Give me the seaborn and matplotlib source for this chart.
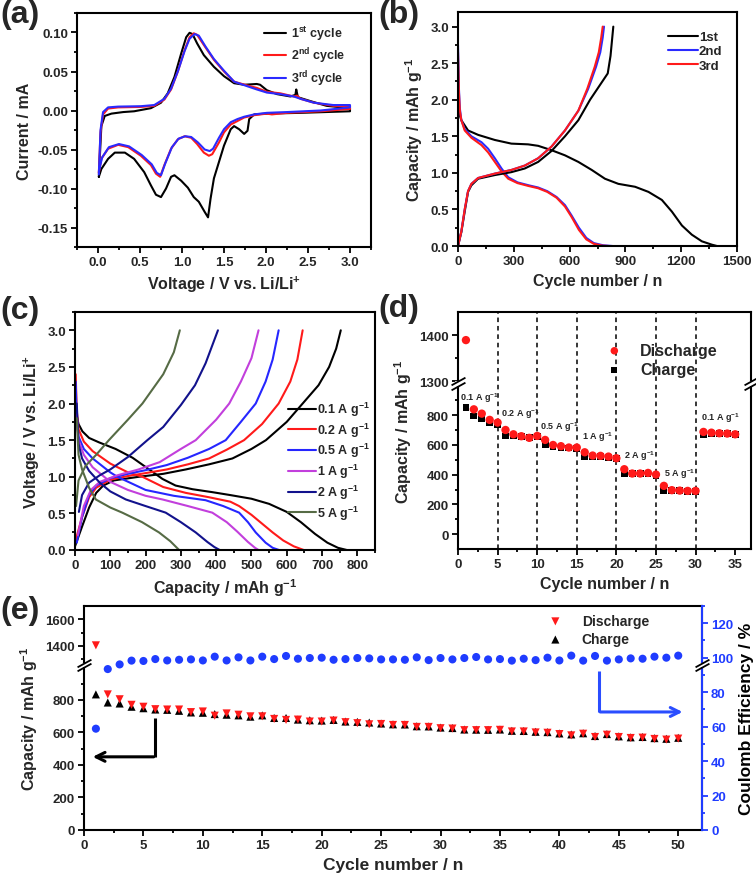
import numpy as np
import matplotlib
matplotlib.use('Agg')
import matplotlib.pyplot as plt
import matplotlib.transforms as mtransforms
from matplotlib.ticker import MultipleLocator, FixedLocator
import seaborn as sns

sns.set_style('ticks')
plt.rcParams['font.family'] = ['Liberation Sans', 'DejaVu Sans']
plt.rcParams['font.weight'] = 'bold'
plt.rcParams['axes.labelweight'] = 'bold'
plt.rcParams['mathtext.fontset'] = 'custom'
plt.rcParams['mathtext.rm'] = 'Liberation Sans:bold'
plt.rcParams['mathtext.it'] = 'Liberation Sans:bold'
plt.rcParams['mathtext.bf'] = 'Liberation Sans:bold'
plt.rcParams['mathtext.default'] = 'rm'
plt.rcParams['lines.solid_joinstyle'] = 'round'

# ---------------- (a) cyclic voltammetry ----------------
cv1_v = [0.01, 0.04, 0.08, 0.16, 0.30, 0.43, 0.63, 0.75, 0.83, 0.91, 0.99, 1.05, 1.09, 1.125, 1.18, 1.26,
         1.38, 1.50, 1.62, 1.74, 1.89, 1.93, 2.01, 2.13, 2.29, 2.35, 2.36, 2.38, 2.53, 2.72, 3.0,
         3.0, 2.41, 2.01, 1.86, 1.80, 1.78, 1.74, 1.68, 1.62, 1.58, 1.50, 1.44, 1.38, 1.34, 1.31, 1.27,
         1.20, 1.14, 1.07, 0.99, 0.91, 0.87, 0.81, 0.75, 0.69, 0.63, 0.55, 0.43, 0.32, 0.20, 0.12, 0.04, 0.01]
cv1_i = [-0.085, -0.020, -0.007, -0.004, -0.002, -0.001, 0.003, 0.010, 0.022, 0.043, 0.073, 0.094, 0.0996, 0.098, 0.086, 0.071,
         0.056, 0.044, 0.035, 0.033, 0.034, 0.033, 0.026, 0.021, 0.018, 0.020, 0.027, 0.017, 0.012, 0.006, 0.003,
         -0.001, -0.003, -0.004, -0.005, -0.011, -0.026, -0.030, -0.024, -0.020, -0.024, -0.045, -0.066, -0.087, -0.113, -0.137, -0.130,
         -0.117, -0.111, -0.099, -0.090, -0.083, -0.085, -0.100, -0.111, -0.108, -0.096, -0.079, -0.062, -0.054, -0.054, -0.062, -0.075, -0.085]
cv2_v = [0.01, 0.03, 0.06, 0.12, 0.24, 0.51, 0.67, 0.79, 0.87, 0.95, 1.03, 1.09, 1.14, 1.18, 1.26, 1.38, 1.50, 1.62,
         1.78, 1.89, 2.01, 2.17, 2.33, 2.37, 2.41, 2.57, 2.80, 3.0,
         3.0, 2.65, 2.25, 2.07, 2.01, 1.86, 1.74, 1.66, 1.58, 1.50, 1.44, 1.36, 1.32, 1.26, 1.18, 1.11, 1.03, 0.95,
         0.87, 0.79, 0.74, 0.69, 0.63, 0.51, 0.36, 0.24, 0.12, 0.04, 0.01]
cv2_i = [-0.080, -0.028, -0.005, 0.0025, 0.004, 0.0046, 0.006, 0.014, 0.027, 0.050, 0.077, 0.094, 0.099, 0.097, 0.084, 0.065, 0.050, 0.037,
         0.032, 0.029, 0.024, 0.022, 0.018, 0.019, 0.015, 0.010, 0.006, 0.0055,
         0.002, -0.001, -0.003, -0.005, -0.004, -0.006, -0.009, -0.0135, -0.018, -0.028, -0.041, -0.056, -0.058, -0.054, -0.043, -0.035, -0.033, -0.037,
         -0.049, -0.070, -0.085, -0.081, -0.070, -0.058, -0.047, -0.044, -0.049, -0.062, -0.080]
cv3_v = [0.01, 0.03, 0.06, 0.12, 0.24, 0.51, 0.67, 0.79, 0.87, 0.95, 1.03, 1.09, 1.15, 1.20, 1.28, 1.38, 1.50, 1.62,
         1.78, 1.89, 2.01, 2.17, 2.33, 2.41, 2.57, 2.80, 3.0,
         3.0, 2.65, 2.25, 2.01, 1.86, 1.74, 1.66, 1.58, 1.50, 1.44, 1.37, 1.33, 1.27, 1.19, 1.11, 1.04, 0.96,
         0.88, 0.80, 0.75, 0.70, 0.64, 0.52, 0.37, 0.25, 0.13, 0.05, 0.01]
cv3_i = [-0.082, -0.025, -0.002, 0.004, 0.005, 0.0055, 0.007, 0.015, 0.028, 0.050, 0.076, 0.092, 0.098, 0.096, 0.082, 0.066, 0.051, 0.037,
         0.031, 0.027, 0.023, 0.021, 0.018, 0.015, 0.010, 0.007, 0.007,
         0.004, 0.0, -0.002, -0.003, -0.005, -0.008, -0.011, -0.015, -0.024, -0.035, -0.049, -0.052, -0.050, -0.041, -0.034, -0.033, -0.036,
         -0.047, -0.068, -0.083, -0.080, -0.069, -0.057, -0.046, -0.043, -0.047, -0.060, -0.078]

# ---------------- (b) charge / discharge profiles ----------------
b1_dis_x = [0, 5, 18, 54, 108, 198, 287, 377, 431, 503, 575, 647, 719, 790, 862, 952, 1024, 1096, 1150, 1204, 1257, 1311, 1365, 1392]
b1_dis_y = [1.95, 1.82, 1.72, 1.58, 1.52, 1.45, 1.40, 1.39, 1.37, 1.31, 1.24, 1.15, 1.04, 0.92, 0.85, 0.81, 0.74, 0.63, 0.47, 0.28, 0.155, 0.064, 0.018, 0.0]
b1_chg_x = [0, 18, 36, 54, 72, 108, 198, 287, 359, 431, 503, 575, 647, 710, 776, 805, 820, 835]
b1_chg_y = [0.0, 0.19, 0.47, 0.74, 0.83, 0.92, 0.97, 1.01, 1.06, 1.15, 1.30, 1.50, 1.72, 2.0, 2.25, 2.36, 2.6, 3.0]
b2_dis_x = [0, 5, 10, 18, 36, 72, 126, 162, 198, 234, 270, 320, 380, 431, 480, 530, 575, 610, 650, 690, 730, 780, 830]
b2_dis_y = [2.75, 2.15, 1.88, 1.72, 1.60, 1.50, 1.42, 1.33, 1.20, 1.06, 0.94, 0.87, 0.83, 0.80, 0.75, 0.67, 0.56, 0.42, 0.25, 0.11, 0.04, 0.01, 0.0]
b2_chg_x = [0, 18, 36, 54, 72, 108, 198, 287, 359, 431, 503, 575, 647, 700, 742, 765, 778, 785]
b2_chg_y = [0.0, 0.2, 0.5, 0.75, 0.85, 0.93, 0.99, 1.04, 1.10, 1.20, 1.36, 1.58, 1.85, 2.15, 2.45, 2.65, 2.85, 3.0]
b3_dis_x = [0, 5, 10, 18, 36, 72, 126, 162, 198, 234, 270, 320, 380, 431, 480, 530, 575, 610, 650, 690, 730, 775, 810]
b3_dis_y = [2.65, 2.1, 1.85, 1.72, 1.58, 1.48, 1.38, 1.28, 1.15, 1.02, 0.92, 0.86, 0.82, 0.79, 0.74, 0.66, 0.54, 0.40, 0.22, 0.09, 0.03, 0.005, 0.0]
b3_chg_x = [0, 18, 36, 54, 72, 108, 198, 287, 359, 431, 503, 575, 647, 695, 735, 757, 770, 778]
b3_chg_y = [0.0, 0.2, 0.5, 0.75, 0.85, 0.93, 0.99, 1.04, 1.10, 1.20, 1.36, 1.58, 1.85, 2.15, 2.45, 2.65, 2.85, 3.0]

# ---------------- (c) rate profiles ----------------
rate_labels = ['0.1 A g$^{-1}$', '0.2 A g$^{-1}$', '0.5 A g$^{-1}$', '1 A g$^{-1}$', '2 A g$^{-1}$', '5 A g$^{-1}$']
rate_colors = ['#000000', '#ff1a1a', '#2626ff', '#c23fdc', '#12128c', '#566b45']
c_dis_x = [
    [2, 10, 21, 40, 68, 115, 163, 210, 248, 285, 333, 389, 440, 500, 550, 600, 640, 680, 715, 745, 770],
    [2, 5, 10, 25, 50, 100, 150, 191, 250, 314, 380, 440, 465, 500, 530, 560, 590, 620, 648],
    [2, 5, 10, 25, 50, 100, 120, 200, 280, 370, 420, 465, 490, 512, 540, 560, 578],
    [5, 10, 25, 50, 100, 150, 200, 248, 320, 389, 430, 460, 490, 510, 520],
    [5, 10, 20, 40, 70, 100, 144, 200, 257, 300, 342, 375, 395, 410],
    [5, 10, 20, 40, 59, 100, 134, 190, 238, 270, 295],
]
c_dis_y = [
    [1.9, 1.72, 1.62, 1.53, 1.47, 1.38, 1.26, 1.10, 0.97, 0.88, 0.83, 0.79, 0.75, 0.70, 0.63, 0.52, 0.38, 0.22, 0.10, 0.03, 0.0],
    [2.4, 1.9, 1.65, 1.48, 1.35, 1.18, 1.06, 1.0, 0.86, 0.78, 0.72, 0.66, 0.60, 0.48, 0.36, 0.24, 0.13, 0.05, 0.0],
    [2.3, 1.8, 1.55, 1.38, 1.25, 1.06, 1.0, 0.82, 0.74, 0.68, 0.60, 0.51, 0.38, 0.24, 0.10, 0.03, 0.0],
    [1.85, 1.5, 1.30, 1.13, 0.93, 0.82, 0.74, 0.69, 0.60, 0.51, 0.38, 0.25, 0.11, 0.03, 0.0],
    [2.0, 1.45, 1.25, 1.08, 0.92, 0.80, 0.69, 0.60, 0.51, 0.38, 0.24, 0.11, 0.04, 0.0],
    [1.8, 1.3, 1.1, 0.85, 0.69, 0.58, 0.51, 0.38, 0.24, 0.12, 0.0],
]
c_chg_x = [
    [0, 20, 40, 60, 80, 110, 181, 250, 314, 380, 446, 500, 541, 600, 645, 690, 720, 740, 753],
    [0, 20, 40, 60, 100, 150, 200, 260, 320, 380, 430, 479, 530, 577, 610, 630, 645],
    [5, 20, 40, 60, 100, 150, 200, 260, 320, 380, 427, 470, 512, 540, 560, 577],
    [8, 25, 45, 70, 120, 180, 240, 300, 342, 400, 437, 470, 500, 520],
    [11, 20, 40, 70, 100, 150, 205, 250, 300, 340, 370, 405],
    [3, 10, 30, 60, 96, 150, 191, 250, 280, 297],
]
c_chg_y = [
    [0.05, 0.32, 0.58, 0.78, 0.88, 0.95, 1.0, 1.04, 1.10, 1.17, 1.25, 1.38, 1.5, 1.75, 2.0, 2.25, 2.5, 2.75, 3.0],
    [0.1, 0.45, 0.72, 0.85, 0.96, 1.01, 1.05, 1.10, 1.17, 1.25, 1.37, 1.5, 1.72, 2.0, 2.3, 2.6, 3.0],
    [0.1, 0.45, 0.75, 0.88, 0.98, 1.04, 1.09, 1.16, 1.26, 1.38, 1.5, 1.75, 2.0, 2.3, 2.6, 3.0],
    [0.2, 0.6, 0.82, 0.93, 1.02, 1.10, 1.20, 1.38, 1.5, 1.78, 2.0, 2.3, 2.62, 3.0],
    [0.52, 0.75, 0.92, 1.02, 1.10, 1.27, 1.5, 1.68, 1.98, 2.25, 2.55, 3.0],
    [0.6, 0.95, 1.15, 1.30, 1.5, 1.78, 2.0, 2.4, 2.7, 3.0],
]

# ---------------- (d) rate capability ----------------
d_cycle = list(range(1, 36))
d_discharge = [1389, 840, 811, 769, 751, 701, 672, 659, 648, 661, 634, 600, 592, 583, 583, 551, 529, 527, 522, 511,
               437, 408, 408, 412, 401, 325, 296, 293, 291, 291, 688, 683, 679, 677, 672]
d_charge = [851, 795, 778, 751, 739, 661, 661, 656, 648, 656, 605, 592, 585, 580, 578, 522, 522, 522, 518, 509,
            406, 406, 406, 406, 397, 296, 291, 291, 289, 287, 672, 679, 675, 675, 670]
d_rate_text = ['0.1 A g$^{-1}$', '0.2 A g$^{-1}$', '0.5 A g$^{-1}$', '1 A g$^{-1}$', '2 A g$^{-1}$', '5 A g$^{-1}$', '0.1 A g$^{-1}$']
d_rate_x = [0.3, 5.4, 10.3, 15.7, 20.9, 26.0, 30.7]
d_rate_y = [925, 815, 725, 660, 530, 410, 785]
d_switch = [5, 10, 15, 20, 25, 30]

# ---------------- (e) cycling ----------------
e_cycle = list(range(1, 51))
e_discharge = [1405, 834, 804, 770, 758, 743, 741, 741, 725, 729, 703, 717, 709, 699, 699, 683, 677, 679, 667, 667,
               673, 663, 657, 650, 652, 646, 646, 634, 634, 626, 624, 614, 614, 614, 616, 606, 606, 600, 598, 590,
               582, 592, 572, 586, 572, 566, 568, 560, 556, 562]
e_charge = [834, 784, 778, 758, 749, 741, 739, 733, 723, 721, 713, 709, 705, 697, 705, 689, 689, 679, 675, 673,
            677, 667, 665, 661, 655, 650, 649, 638, 637, 630, 627, 618, 617, 616, 618, 610, 609, 604, 602, 594,
            588, 595, 578, 590, 576, 570, 572, 565, 561, 567]
e_ce = [58.8, 93.4, 96.1, 98.3, 98.1, 99.2, 98.4, 98.8, 99.0, 98.4, 100.6, 98.4, 100.2, 98.4, 100.6, 99.2, 101.0, 99.4, 99.8, 100.0,
        98.8, 99.2, 99.8, 99.6, 99.0, 99.0, 98.8, 100.2, 98.6, 99.8, 99.0, 99.8, 100.4, 99.0, 99.2, 98.3, 99.4, 98.6, 100.0, 98.4,
        101.2, 98.3, 101.0, 98.3, 99.0, 99.6, 99.4, 100.6, 100.0, 101.2]


def style_axes(ax):
    for s in ax.spines.values():
        s.set_visible(True)
        s.set_linewidth(1.5)
        s.set_color('black')
    ax.tick_params(which='both', direction='out', width=1.3, labelsize=9.5, top=False, right=False, color='black')
    ax.tick_params(which='major', length=4.5, pad=2)
    ax.tick_params(which='minor', length=2.5)


def broken_scale(lo_end, hi_start, gap, k):
    def fwd(y):
        y = np.asarray(y, dtype=float)
        return np.where(y <= lo_end, y,
                        np.where(y < hi_start, lo_end + (y - lo_end) * gap / (hi_start - lo_end),
                                 lo_end + gap + (y - hi_start) * k))

    def inv(t):
        t = np.asarray(t, dtype=float)
        return np.where(t <= lo_end, t,
                        np.where(t < lo_end + gap, lo_end + (t - lo_end) * (hi_start - lo_end) / gap,
                                 hi_start + (t - lo_end - gap) / k))
    return fwd, inv


def break_marks(ax, tr, y_lo, y_hi, xs=(0, 1)):
    for x in xs:
        ax.plot([x, x], [y_lo, y_hi], color='white', lw=4, transform=tr, clip_on=False,
                zorder=10, solid_capstyle='butt')
        ax.plot([x, x], [y_lo, y_hi], transform=tr, ls='none', marker=[(-1, -0.55), (1, 0.55)],
                ms=10, mew=1.3, color='black', clip_on=False, zorder=11)


fig = plt.figure(figsize=(7.56, 8.78), dpi=100)
W, H = 756, 878


def add_ax(l, r, t, b):
    return fig.add_axes([l / W, 1 - b / H, (r - l) / W, (b - t) / H])


lab_kw = dict(fontsize=11.5, fontweight='bold')

# ---- (a)
ax = add_ax(77, 371, 14, 248)
for v, i, c, lab in [(cv1_v, cv1_i, 'black', '1$^{st}$ cycle'),
                     (cv2_v, cv2_i, '#ff1a1a', '2$^{nd}$ cycle'),
                     (cv3_v, cv3_i, '#2a2aff', '3$^{rd}$ cycle')]:
    sns.lineplot(x=v, y=i, sort=False, estimator=None, color=c, lw=1.5, label=lab, ax=ax)
ax.set_xlim(-0.25, 3.25)
ax.set_ylim(-0.175, 0.125)
ax.xaxis.set_major_locator(MultipleLocator(0.5))
ax.xaxis.set_minor_locator(MultipleLocator(0.25))
ax.yaxis.set_major_locator(MultipleLocator(0.05))
ax.yaxis.set_minor_locator(MultipleLocator(0.025))
ax.yaxis.set_major_formatter(matplotlib.ticker.FormatStrFormatter('%.2f'))
ax.xaxis.set_major_formatter(matplotlib.ticker.FormatStrFormatter('%.1f'))
ax.set_xlabel('Voltage / V vs. Li/Li$^{+}$', **lab_kw)
ax.set_ylabel('Current / mA', **lab_kw)
style_axes(ax)
ax.legend(loc='upper right', bbox_to_anchor=(0.95, 1.0), frameon=False, fontsize=9,
          handlelength=1.7, labelspacing=0.25, handletextpad=0.4)

# ---- (b)
ax = add_ax(458, 737, 13, 247)
for xs, ys, c, lab in [(b1_dis_x, b1_dis_y, 'black', '1st'), (b2_dis_x, b2_dis_y, '#2a2aff', '2nd'),
                       (b3_dis_x, b3_dis_y, '#ff1a1a', '3rd')]:
    sns.lineplot(x=xs, y=ys, sort=False, estimator=None, color=c, lw=1.5, label=lab, ax=ax)
for xs, ys, c in [(b1_chg_x, b1_chg_y, 'black'), (b2_chg_x, b2_chg_y, '#2a2aff'), (b3_chg_x, b3_chg_y, '#ff1a1a')]:
    sns.lineplot(x=xs, y=ys, sort=False, estimator=None, color=c, lw=1.5, ax=ax)
ax.set_xlim(0, 1500)
ax.set_ylim(0, 3.2)
ax.xaxis.set_major_locator(MultipleLocator(300))
ax.xaxis.set_minor_locator(MultipleLocator(150))
ax.yaxis.set_major_locator(MultipleLocator(0.5))
ax.yaxis.set_minor_locator(MultipleLocator(0.25))
ax.yaxis.set_major_formatter(matplotlib.ticker.FormatStrFormatter('%.1f'))
ax.set_xlabel('Cycle number / n', **lab_kw)
ax.set_ylabel('Capacity / mAh g$^{-1}$', **lab_kw)
style_axes(ax)
ax.legend(loc='upper right', bbox_to_anchor=(0.99, 0.97), frameon=False, fontsize=9.5,
          handlelength=2.2, labelspacing=0.15, handletextpad=0.1)

# ---- (c)
ax = add_ax(75, 375, 313, 551)
for k in range(len(rate_labels)):
    sns.lineplot(x=c_dis_x[k], y=c_dis_y[k], sort=False, estimator=None, color=rate_colors[k], lw=1.5,
                 label=rate_labels[k], ax=ax)
    sns.lineplot(x=c_chg_x[k], y=c_chg_y[k], sort=False, estimator=None, color=rate_colors[k], lw=1.5, ax=ax)
ax.set_xlim(0, 850)
ax.set_ylim(0, 3.25)
ax.xaxis.set_major_locator(MultipleLocator(100))
ax.xaxis.set_minor_locator(MultipleLocator(50))
ax.yaxis.set_major_locator(MultipleLocator(0.5))
ax.yaxis.set_minor_locator(MultipleLocator(0.25))
ax.yaxis.set_major_formatter(matplotlib.ticker.FormatStrFormatter('%.1f'))
ax.set_xlabel('Capacity / mAh g$^{-1}$', **lab_kw)
ax.set_ylabel('Voltage / V vs. Li/Li$^{+}$', **lab_kw)
style_axes(ax)
ax.legend(loc='center right', bbox_to_anchor=(1.02, 0.375), frameon=False, fontsize=9,
          handlelength=2.2, labelspacing=0.2, handletextpad=0.1)

# ---- (d)
ax = add_ax(458, 751, 313, 550)
fwd, inv = broken_scale(1000, 1300, 30, 3.1)
ax.set_yscale('function', functions=(fwd, inv))
for xv in d_switch:
    ax.axvline(xv, ls=(0, (3, 2.5)), color='black', lw=1.1, zorder=1)
sns.scatterplot(x=d_cycle, y=d_discharge, color='#ff1a1a', marker='o', s=36, edgecolor='none',
                label='Discharge', ax=ax, zorder=4)
sns.scatterplot(x=d_cycle, y=d_charge, color='black', marker='s', s=24, edgecolor='none',
                label='Charge', ax=ax, zorder=3)
for t, xt, yt in zip(d_rate_text, d_rate_x, d_rate_y):
    ax.text(xt, yt, t, fontsize=6.5, fontweight='bold', ha='left', va='center')
ax.set_xlim(0, 37)
ax.yaxis.set_major_locator(FixedLocator([0, 200, 400, 600, 800, 1300, 1400]))
ax.yaxis.set_minor_locator(FixedLocator([100, 300, 500, 700, 900, 1350]))
ax.xaxis.set_major_locator(MultipleLocator(5))
ax.xaxis.set_minor_locator(MultipleLocator(2.5))
ax.set_xlabel('Cycle number / n', **lab_kw)
ax.set_ylabel('Capacity / mAh g$^{-1}$', **lab_kw)
style_axes(ax)
break_marks(ax, ax.get_yaxis_transform(), 1000, 1300)
ax.set_ylim(-100, 1450)
leg = ax.legend(loc='upper left', bbox_to_anchor=(0.43, 0.93), frameon=False, fontsize=11.5,
                handletextpad=0.6, labelspacing=0.25, markerscale=0.9)

# ---- (e)
ax = add_ax(84, 702, 607, 831)
fwd, inv = broken_scale(1000, 1270, 25, 0.82)
ax.set_yscale('function', functions=(fwd, inv))
sns.scatterplot(x=e_cycle, y=e_charge, color='black', marker='^', s=34, edgecolor='none',
                label='Charge', ax=ax, zorder=3)
sns.scatterplot(x=e_cycle, y=e_discharge, color='#ff1a1a', marker='v', s=34, edgecolor='none',
                label='Discharge', ax=ax, zorder=4)
ax.set_xlim(0, 52)
ax.set_ylim(0, 1700)
ax.yaxis.set_major_locator(FixedLocator([0, 200, 400, 600, 800, 1400, 1600]))
ax.yaxis.set_minor_locator(FixedLocator([100, 300, 500, 700, 900, 1300, 1500]))
ax.xaxis.set_major_locator(MultipleLocator(5))
ax.xaxis.set_minor_locator(MultipleLocator(2.5))
ax.set_xlabel('Cycle number / n', fontsize=12.5, fontweight='bold')
ax.set_ylabel('Capacity / mAh g$^{-1}$', **lab_kw)
style_axes(ax)
# arrow to the left axis
ax.plot([6, 6], [690, 450], color='black', lw=2.2, solid_capstyle='butt')
ax.annotate('', xy=(0.5, 450), xytext=(6.1, 450),
            arrowprops=dict(arrowstyle='->', color='black', lw=2.2, mutation_scale=16))
h, l = ax.get_legend_handles_labels()
ax.legend(h[::-1], l[::-1], loc='upper left', bbox_to_anchor=(0.72, 1.02), frameon=False, fontsize=10,
          handletextpad=0.9, labelspacing=0.3)

ax2 = ax.twinx()
sns.scatterplot(x=e_cycle, y=e_ce, color='#1f3cff', marker='o', s=34, edgecolor='none', ax=ax2, zorder=3)
ax2.set_ylim(0, 130)
ax2.yaxis.set_major_locator(MultipleLocator(20))
ax2.yaxis.set_minor_locator(MultipleLocator(10))
for s in ['left', 'top', 'bottom']:
    ax2.spines[s].set_visible(False)
ax2.spines['right'].set_color('#1f3cff')
ax2.spines['right'].set_linewidth(1.5)
ax2.tick_params(axis='y', which='both', direction='out', colors='#1f3cff', width=1.3, labelsize=9.5, pad=2)
ax2.tick_params(axis='y', which='major', length=4.5)
ax2.tick_params(axis='y', which='minor', length=2.5)
ax2.set_ylabel('Coulomb Efficiency / %', fontsize=12.5, fontweight='bold', color='black')
ax2.plot([43.3, 43.3], [92, 68.5], color='#2a4dff', lw=2.2, solid_capstyle='butt')
ax2.annotate('', xy=(50.6, 68.5), xytext=(43.2, 68.5),
             arrowprops=dict(arrowstyle='->', color='#2a4dff', lw=2.2, mutation_scale=16))
tr_e = mtransforms.blended_transform_factory(ax2.transAxes, ax.transData)
break_marks(ax2, tr_e, 1000, 1270)
ax2.set_ylim(0, 130)

# panel letters
for txt, x, y in [('(a)', 0.0, 1.0), ('(b)', 378 / W, 1.0), ('(c)', 0.0, 1 - 296 / H),
                  ('(d)', 378 / W, 1 - 294 / H), ('(e)', 0.0, 1 - 596 / H)]:
    fig.text(x, y, txt, fontsize=23, fontweight='bold', ha='left', va='top')

fig.savefig('out.png', dpi=100)
